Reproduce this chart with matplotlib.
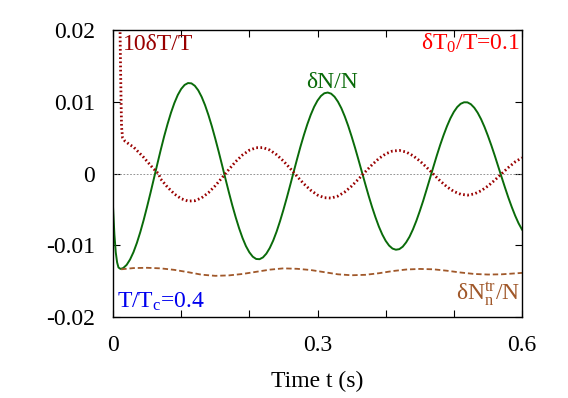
import matplotlib
matplotlib.use("Agg")
import matplotlib.pyplot as plt

# values
t_green = [0.0, 0.002, 0.004, 0.006, 0.008, 0.011, 0.015] + [round(0.02 + 0.005 * i, 3) for i in range(117)]
dN_N = [-0.0047, -0.0085, -0.0110, -0.0124, -0.0131, -0.0133, -0.01317,
        -0.01273, -0.01198, -0.01096, -0.00967, -0.00816, -0.00646, -0.00461, -0.00268,
        -0.00068, 0.00133, 0.00330, 0.00518, 0.00690, 0.00847, 0.00983, 0.01095, 0.01179,
        0.01235, 0.01261, 0.01257, 0.01223, 0.01160, 0.01069, 0.00953, 0.00814, 0.00658,
        0.00486, 0.00305, 0.00116, -0.00075, -0.00263, -0.00444, -0.00611, -0.00764,
        -0.00899, -0.01012, -0.01098, -0.01159, -0.01191, -0.01194, -0.01169, -0.01116,
        -0.01037, -0.00934, -0.00809, -0.00664, -0.00505, -0.00336, -0.00159, 0.00022,
        0.00201, 0.00375, 0.00536, 0.00685, 0.00817, 0.00929, 0.01017, 0.01081, 0.01119,
        0.01129, 0.01113, 0.01070, 0.01001, 0.00910, 0.00796, 0.00665, 0.00518, 0.00361,
        0.00195, 0.00025, -0.00144, -0.00310, -0.00466, -0.00609, -0.00739, -0.00849,
        -0.00938, -0.01004, -0.01046, -0.01062, -0.01054, -0.01020, -0.00960, -0.00881,
        -0.00779, -0.00660, -0.00525, -0.00381, -0.00225, -0.00067, 0.00093, 0.00250,
        0.00399, 0.00536, 0.00661, 0.00770, 0.00859, 0.00927, 0.00972, 0.00993, 0.00992,
        0.00966, 0.00917, 0.00847, 0.00757, 0.00649, 0.00526, 0.00393, 0.00251, 0.00102,
        -0.00047, -0.00194, -0.00336, -0.00467, -0.00588, -0.00694, -0.00781]

t_temp = [0.0, 0.008, 0.0103, 0.011, 0.0118, 0.0125, 0.014, 0.0176, 0.025, 0.03, 0.0445, 0.059,
          0.0665, 0.07, 0.08, 0.09, 0.10, 0.11, 0.12, 0.13, 0.14, 0.15, 0.16, 0.17, 0.18, 0.19,
          0.20, 0.21, 0.22, 0.23, 0.24, 0.25, 0.26, 0.27, 0.28, 0.29, 0.30, 0.31, 0.32, 0.33,
          0.34, 0.35, 0.36, 0.37, 0.38, 0.39, 0.40, 0.41, 0.42, 0.43, 0.44, 0.45, 0.46, 0.47,
          0.48, 0.49, 0.50, 0.51, 0.52, 0.53, 0.54, 0.55, 0.56, 0.57, 0.58, 0.59, 0.60]
dT_T10 = [0.030, 0.025, 0.020, 0.015, 0.010, 0.0065, 0.0050, 0.0045, 0.0040, 0.0037, 0.0023,
          0.0007, 0.0, -0.00077, -0.00191, -0.00285, -0.00351, -0.00384, -0.00379, -0.00339,
          -0.00267, -0.00170, -0.00058, 0.00057, 0.00167, 0.00259, 0.00325, 0.00360, 0.00361,
          0.00327, 0.00262, 0.00174, 0.00070, -0.00039, -0.00144, -0.00233, -0.00300, -0.00337,
          -0.00342, -0.00314, -0.00257, -0.00176, -0.00079, 0.00023, 0.00122, 0.00209, 0.00274,
          0.00313, 0.00322, 0.00300, 0.00249, 0.00176, 0.00087, -0.00009, -0.00103, -0.00186,
          -0.00250, -0.00289, -0.00301, -0.00284, -0.00240, -0.00175, -0.00093, -0.00004,
          0.00084, 0.00163, 0.00220]

t_tr = [0.012, 0.03, 0.05, 0.07, 0.09, 0.11, 0.13, 0.15, 0.17, 0.19, 0.21, 0.23, 0.25, 0.27,
        0.29, 0.31, 0.33, 0.35, 0.37, 0.39, 0.41, 0.43, 0.45, 0.47, 0.49, 0.51, 0.53, 0.55,
        0.57, 0.59, 0.60]
dNtr_N = [-0.01335, -0.01318, -0.01314, -0.01322, -0.01343, -0.01375, -0.01410, -0.01426,
          -0.01420, -0.01400, -0.01370, -0.01340, -0.01322, -0.01328, -0.01345, -0.01375,
          -0.01405, -0.01418, -0.01412, -0.01390, -0.01360, -0.01338, -0.01330, -0.01335,
          -0.01355, -0.01380, -0.01400, -0.01408, -0.01405, -0.01392, -0.01385]

x_ticks = [0, 0.1, 0.2, 0.3, 0.4, 0.5, 0.6]
x_labels = ['0', '', '', '0.3', '', '', '0.6']
y_ticks = [-0.02, -0.01, 0, 0.01, 0.02]
y_labels = ['-0.02', '-0.01', '0', '0.01', '0.02']

plt.rcParams['font.family'] = ['Liberation Serif', 'DejaVu Serif']
plt.rcParams['mathtext.default'] = 'regular'
plt.rcParams['font.size'] = 17

fig = plt.figure(figsize=(5.68, 3.98), dpi=100)
ax = fig.add_axes([0.199, 0.2035, 0.72, 0.721])

# zero reference line
ax.axhline(0, color='gray', lw=0.6, ls=(0, (2, 2)))

ax.plot(t_green, dN_N, color='#0a6b0a', lw=1.4)
ax.plot(t_temp, dT_T10, color='#990000', lw=2.0, ls=(0, (0.6, 0.9)), dash_capstyle='butt')
ax.plot(t_tr, dNtr_N, color='#a0582a', lw=1.3, ls=(0, (3, 1.6)))

ax.set_xlim(0, 0.6)
ax.set_ylim(-0.02, 0.02)
ax.set_xticks(x_ticks)
ax.set_xticklabels(x_labels)
ax.set_yticks(y_ticks)
ax.set_yticklabels(y_labels)
ax.tick_params(direction='in', top=True, right=True, length=5, width=0.8)
ax.tick_params(axis='x', pad=13)
ax.tick_params(axis='y', pad=13)
for s in ax.spines.values():
    s.set_linewidth(1.0)

ax.set_xlabel('Time t (s)', labelpad=11)

ax.text(0.014, 0.0172, '10δT/T', color='#990000', va='baseline', ha='left')
ax.text(0.597, 0.0172, 'δT$_0$/T=0.1', color='#ff0000', va='baseline', ha='right')
ax.text(0.284, 0.0119, 'δN/N', color='#0a6b0a', va='baseline', ha='left')
ax.text(0.006, -0.01877, 'T/T$_c$=0.4', color='#0000ee', va='baseline', ha='left')
ax.text(0.597, -0.0175, 'δN$_n^{tr}$/N', color='#a0582a', va='baseline', ha='right')

fig.savefig('out.png', dpi=100)
